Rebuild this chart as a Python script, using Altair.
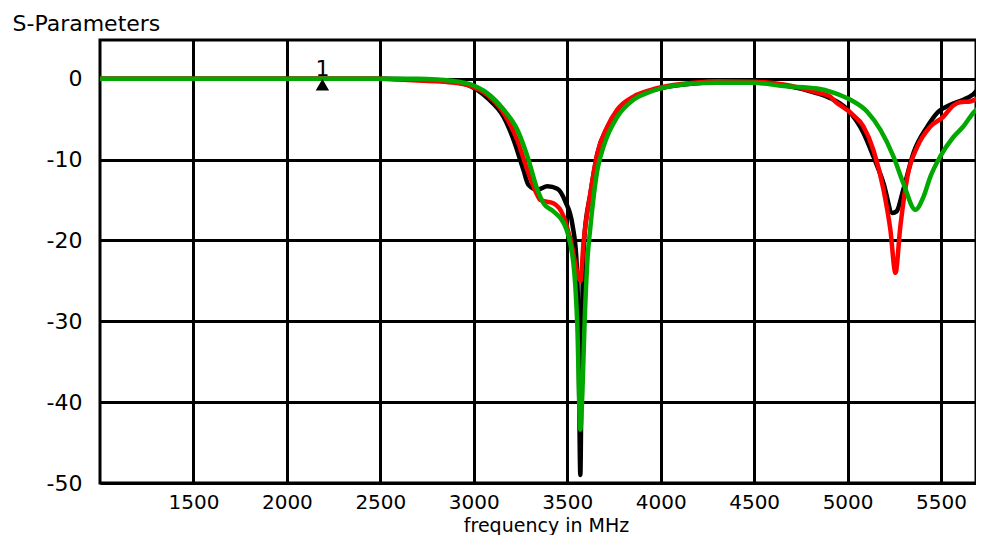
import altair as alt
import pandas as pd

# ---- data ----
black_freq = [1000, 2500, 2700, 2800, 2900, 2980, 3073, 3159, 3212, 3266, 3292, 3340, 3394,
              3447, 3490, 3528, 3549, 3560, 3570, 3578, 3590, 3624, 3661, 3715, 3768, 3854,
              3945, 4036, 4175, 4300, 4500, 4660, 4838, 4908, 4999, 5085, 5138, 5192, 5240,
              5262, 5298, 5352, 5427, 5480, 5550, 5619, 5673, 5710, 5730]
black_db = [0, 0, -0.1, -0.2, -0.4, -0.9, -2.4, -4.7, -7.5, -11.3, -13.1, -13.7, -13.3,
            -13.6, -15.2, -18.1, -22.3, -30.7, -49.0, -32.0, -20.0, -14.2, -9.3, -6.0, -3.9, -2.3,
            -1.5, -1.0, -0.6, -0.4, -0.45, -0.8, -1.8, -2.4, -3.8, -6.7, -9.6, -12.9, -16.6,
            -16.4, -13.7, -9.2, -5.9, -4.2, -3.2, -2.6, -1.9, -1.1, -1.2]

red_freq = [1000, 2500, 2600, 2700, 2800, 2900, 2982, 3073, 3159, 3233, 3287, 3340, 3356,
            3426, 3480, 3517, 3560, 3570, 3587, 3624, 3661, 3715, 3768, 3854, 3945, 4036,
            4175, 4300, 4500, 4657, 4838, 4908, 4924, 5015, 5085, 5138, 5192, 5229, 5256,
            5282, 5320, 5373, 5443, 5512, 5566, 5600, 5657, 5690, 5730]
red_db = [0, 0, -0.1, -0.2, -0.3, -0.5, -0.9, -2.0, -4.2, -7.6, -11.3, -14.4, -15.0,
          -15.4, -17.0, -19.9, -24.5, -25.0, -20.3, -14.1, -9.2, -5.9, -3.8, -2.2, -1.4, -0.9,
          -0.5, -0.3, -0.35, -0.7, -1.7, -2.2, -2.6, -4.2, -5.9, -8.8, -13.7, -18.7, -24.0,
          -18.3, -12.1, -8.4, -5.9, -4.7, -3.3, -2.9, -2.8, -2.5, -2.0]

green_freq = [1000, 2700, 2805, 2900, 2982, 3073, 3159, 3233, 3287, 3340, 3373, 3426, 3480,
              3501, 3538, 3554, 3570, 3581, 3592, 3608, 3624, 3661, 3694, 3768, 3854, 3945,
              4036, 4159, 4300, 4500, 4657, 4838, 4924, 5015, 5106, 5175, 5245, 5298, 5363,
              5406, 5443, 5496, 5566, 5619, 5673, 5730]
green_db = [0, 0, -0.1, -0.3, -0.7, -1.8, -3.8, -6.3, -9.6, -13.7, -15.4, -16.4, -17.8,
            -19.0, -24.0, -30.7, -43.4, -38.8, -30.7, -22.4, -18.3, -11.3, -8.4, -4.7, -2.6, -1.6,
            -1.0, -0.6, -0.5, -0.5, -0.9, -1.2, -1.7, -2.6, -4.1, -6.3, -9.6, -12.9, -16.2,
            -14.6, -12.1, -9.6, -7.2, -5.9, -4.2, -3.0]

series_names = ["black", "red", "green"]
series_colors = ["#000000", "#ff0000", "#00a800"]

x_ticks = [1500, 2000, 2500, 3000, 3500, 4000, 4500, 5000, 5500]
y_ticks = [-50, -40, -30, -20, -10, 0]
x_domain = [1000, 5687]
y_domain = [-50, 4.8]

marker_freq = [2190]
marker_db = [0]
marker_label = ["1"]

x_title = "frequency in MHz"
y_title = "S-Parameters"

# ---- build tables ----
rows = []
for name, fs, ds in [("black", black_freq, black_db),
                     ("red", red_freq, red_db),
                     ("green", green_freq, green_db)]:
    for f, d in zip(fs, ds):
        rows.append({"series": name, "freq": f, "db": d})
df = pd.DataFrame(rows)
mdf = pd.DataFrame({"freq": marker_freq, "db": marker_db, "label": marker_label})

FONT = "DejaVu Sans"

x_enc = alt.X(
    "freq:Q",
    scale=alt.Scale(domain=x_domain, nice=False, zero=False),
    axis=alt.Axis(
        values=x_ticks, grid=True, gridColor="black", gridWidth=3, gridOpacity=1,
        ticks=False, domain=False, labelFont=FONT, labelFontSize=20, labelColor="black",
        labelPadding=9, labelFlush=False, labelOverlap=False,
        labelExpr="'' + datum.value",
        title=x_title, titleFont=FONT, titleFontSize=19, titleFontWeight="normal",
        titleColor="black", titleX=446, titleY=48, titleBaseline="alphabetic",
        titleAlign="center",
    ),
)
y_enc = alt.Y(
    "db:Q",
    scale=alt.Scale(domain=y_domain, nice=False, zero=False),
    axis=alt.Axis(
        values=y_ticks, grid=True, gridColor="black", gridWidth=3, gridOpacity=1,
        ticks=False, domain=False, labelFont=FONT, labelFontSize=22, labelColor="black",
        labelPadding=18, labelFlush=False, labelOverlap=False,
        labelExpr="'' + datum.value",
        title=y_title, titleFont=FONT, titleFontSize=22, titleFontWeight="normal",
        titleColor="black", titleAngle=0, titleX=-88, titleY=-10,
        titleAlign="left", titleBaseline="alphabetic",
    ),
)


def line_layer(name, color):
    return (
        alt.Chart(df)
        .transform_filter(alt.datum.series == name)
        .mark_line(color=color, strokeWidth=4.5, interpolate="monotone", clip=True,
                   strokeCap="round", strokeJoin="round")
        .encode(x=x_enc, y=y_enc)
    )


layers = [line_layer(n, c) for n, c in zip(series_names, series_colors)]

tri = alt.Chart(mdf).mark_point(
    shape="triangle-up", filled=True, color="black", size=180, yOffset=6, opacity=1
).encode(x=x_enc, y=y_enc)

txt = alt.Chart(mdf).mark_text(
    font=FONT, fontSize=22, dy=-3, baseline="alphabetic", color="black"
).encode(x=x_enc, y=y_enc, text="label:N")

chart = (
    alt.layer(*layers, tri, txt)
    .properties(
        width=876, height=443,
        autosize=alt.AutoSizeParams(type="none"),
        padding={"left": 92, "top": 32, "right": 0, "bottom": 52},
        background="white",
    )
    .configure_view(stroke="black", strokeWidth=3)
)

chart.save("out.html", embed_options={"renderer": "svg", "actions": False})
